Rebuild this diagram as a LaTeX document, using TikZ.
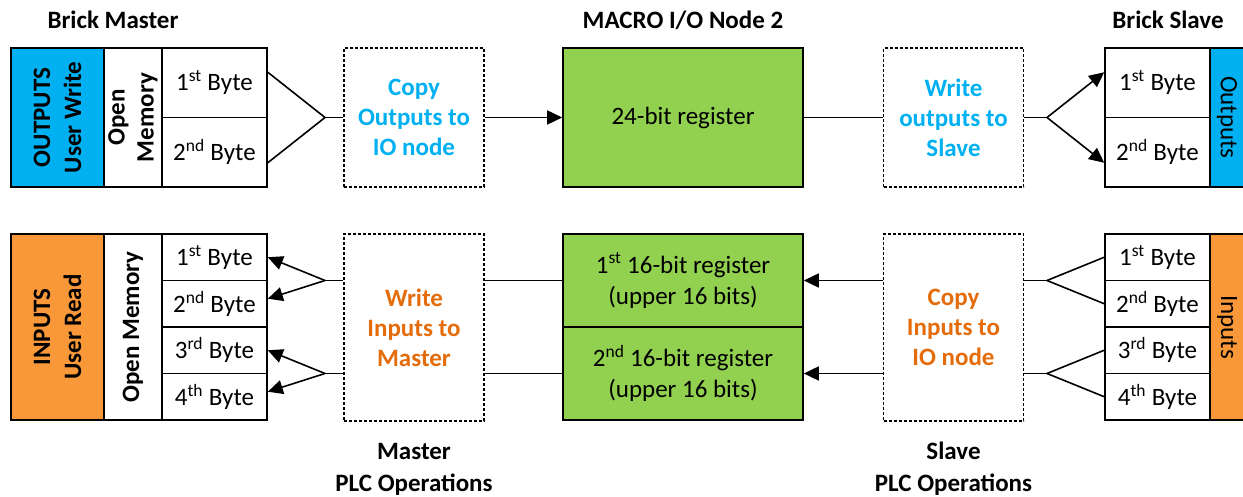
\documentclass[tikz,border=0pt]{standalone}
\usepackage{fontspec}
\setmainfont{Carlito}
\usetikzlibrary{arrows.meta, positioning, calc}
\definecolor{outblue}{RGB}{0,176,240}
\definecolor{inorange}{RGB}{248,152,56}
\definecolor{txtorange}{RGB}{228,108,10}
\definecolor{reggreen}{RGB}{146,208,80}

\tikzset{
  cell/.style={draw, line width=1.6pt, inner sep=0pt, align=center},
  opbox/.style={draw, line width=1.2pt, dash pattern=on 3pt off 2pt, inner sep=0pt,
    minimum width=140pt, align=center, font=\fontsize{25}{30}\selectfont\bfseries},
  title/.style={align=center, font=\fontsize{25}{32}\selectfont\bfseries},
  wire/.style={line width=1.6pt},
  arr/.style={wire, -{Triangle[length=15pt,width=14pt]}}
}

\begin{document}
\begin{tikzpicture}[x=1pt, y=1pt, every node/.style={font=\fontsize{25}{31}\selectfont}]
  \useasboundingbox (0,0) rectangle (1243,497);

  % Titles
  \node[title] (tMaster) at (113,477) {Brick Master};
  \node[title] (tMacro) at (683,477) {MACRO I/O Node 2};
  \node[title] (tSlave) at (1168,477) {Brick Slave};
  \node[title] (tMplc) at (414,28) {Master\\PLC Operations};
  \node[title] (tSplc) at (953.5,28) {Slave\\PLC Operations};

  % Outputs row, master side
  \node[cell, fill=outblue, rotate=90, minimum width=139pt, minimum height=93pt,
    font=\fontsize{25}{31}\selectfont\bfseries] (outM) at (57.5,379.5) {OUTPUTS\\User Write};
  \node[cell, rotate=90, minimum width=139pt, minimum height=58pt,
    font=\fontsize{25}{29}\selectfont\bfseries] (memOM) at (133,379.5) {Open\\Memory};
  \node[cell, minimum width=105pt, minimum height=69.5pt] (byteM1) at (214.5,414.25) {1\textsuperscript{st} Byte};
  \node[cell, minimum width=105pt, minimum height=69.5pt] (byteM2) at (214.5,344.75) {2\textsuperscript{nd} Byte};

  % Outputs row, middle
  \node[opbox, minimum height=139pt, text=outblue] (copyOut) at (414,379.5) {Copy\\Outputs to\\IO node};
  \node[cell, fill=reggreen, minimum width=240pt, minimum height=139pt] (reg24) at (683,379.5) {24-bit register};
  \node[opbox, minimum height=139pt, text=outblue] (writeOut) at (953.5,379.5) {Write\\outputs to\\Slave};

  % Outputs row, slave side
  \node[cell, minimum width=105pt, minimum height=69.5pt] (byteS1) at (1157.5,414.25) {1\textsuperscript{st} Byte};
  \node[cell, minimum width=105pt, minimum height=69.5pt] (byteS2) at (1157.5,344.75) {2\textsuperscript{nd} Byte};
  \node[cell, fill=outblue, rotate=-90, minimum width=139pt, minimum height=34pt] (outS) at (1227,379.5) {Outputs};

  % Inputs row, master side
  \node[cell, fill=inorange, rotate=90, minimum width=186pt, minimum height=93pt,
    font=\fontsize{25}{31}\selectfont\bfseries] (inM) at (57.5,170) {INPUTS\\User Read};
  \node[cell, rotate=90, minimum width=186pt, minimum height=58pt,
    font=\fontsize{25}{31}\selectfont\bfseries] (memIM) at (133,170) {Open Memory};
  \node[cell, minimum width=105pt, minimum height=46.5pt] (byteI1) at (214.5,239.75) {1\textsuperscript{st} Byte};
  \node[cell, minimum width=105pt, minimum height=46.5pt] (byteI2) at (214.5,193.25) {2\textsuperscript{nd} Byte};
  \node[cell, minimum width=105pt, minimum height=46.5pt] (byteI3) at (214.5,146.75) {3\textsuperscript{rd} Byte};
  \node[cell, minimum width=105pt, minimum height=46.5pt] (byteI4) at (214.5,100.25) {4\textsuperscript{th} Byte};

  % Inputs row, middle
  \node[opbox, minimum height=187pt, text=txtorange] (writeIn) at (414,169.5) {Write\\Inputs to\\Master};
  \node[cell, fill=reggreen, minimum width=240pt, minimum height=93pt] (reg1) at (683,216.5) {1\textsuperscript{st} 16-bit register\\(upper 16 bits)};
  \node[cell, fill=reggreen, minimum width=240pt, minimum height=93pt] (reg2) at (683,123.5) {2\textsuperscript{nd} 16-bit register\\(upper 16 bits)};
  \node[opbox, minimum height=187pt, text=txtorange] (copyIn) at (953.5,169.5) {Copy\\Inputs to\\IO node};

  % Inputs row, slave side
  \node[cell, minimum width=105pt, minimum height=46.5pt] (byteSI1) at (1157.5,239.75) {1\textsuperscript{st} Byte};
  \node[cell, minimum width=105pt, minimum height=46.5pt] (byteSI2) at (1157.5,193.25) {2\textsuperscript{nd} Byte};
  \node[cell, minimum width=105pt, minimum height=46.5pt] (byteSI3) at (1157.5,146.75) {3\textsuperscript{rd} Byte};
  \node[cell, minimum width=105pt, minimum height=46.5pt] (byteSI4) at (1157.5,100.25) {4\textsuperscript{th} Byte};
  \node[cell, fill=inorange, rotate=-90, minimum width=186pt, minimum height=34pt] (inS) at (1227,170) {Inputs};

  % Fan points
  \coordinate (fanOM) at (325,379.5);
  \coordinate (fanOS) at (1047,379.5);
  \coordinate (fanIM1) at (325,216.5);
  \coordinate (fanIM2) at (325,123.5);
  \coordinate (fanIS1) at (1047,216.5);
  \coordinate (fanIS2) at (1047,123.5);

  % Outputs connectors
  \draw[wire] ($(byteM1.east)+(0,10.5)$) -- (fanOM) -- ($(byteM2.east)+(0,-10.5)$);
  \draw[wire] (fanOM) -- (copyOut);
  \draw[arr] (copyOut) -- (reg24);
  \draw[wire] (reg24) -- (writeOut);
  \draw[wire] (writeOut) -- (fanOS);
  \draw[arr] (fanOS) -- ($(byteS1.west)+(0,10.5)$);
  \draw[arr] (fanOS) -- ($(byteS2.west)+(0,-10.5)$);

  % Inputs connectors
  \foreach \r/\fm/\fs/\ba/\bb/\sa/\sb in {reg1/fanIM1/fanIS1/byteI1/byteI2/byteSI1/byteSI2,
                                          reg2/fanIM2/fanIS2/byteI3/byteI4/byteSI3/byteSI4} {
    \draw[arr] (\fm) -- (\ba.east);
    \draw[arr] (\fm) -- ($(\bb.east)+(0,5)$);
    \draw[wire] (\fm) -- (\fm -| writeIn.west);
    \draw[wire] (writeIn.east |- \r) -- (\r);
    \draw[arr] (copyIn.west |- \r) -- (\r);
    \draw[wire] (copyIn.east |- \r) -- (\fs);
    \draw[wire] (\fs) -- (\sa.west);
    \draw[wire] (\fs) -- (\sb.west);
  }
\end{tikzpicture}
\end{document}
